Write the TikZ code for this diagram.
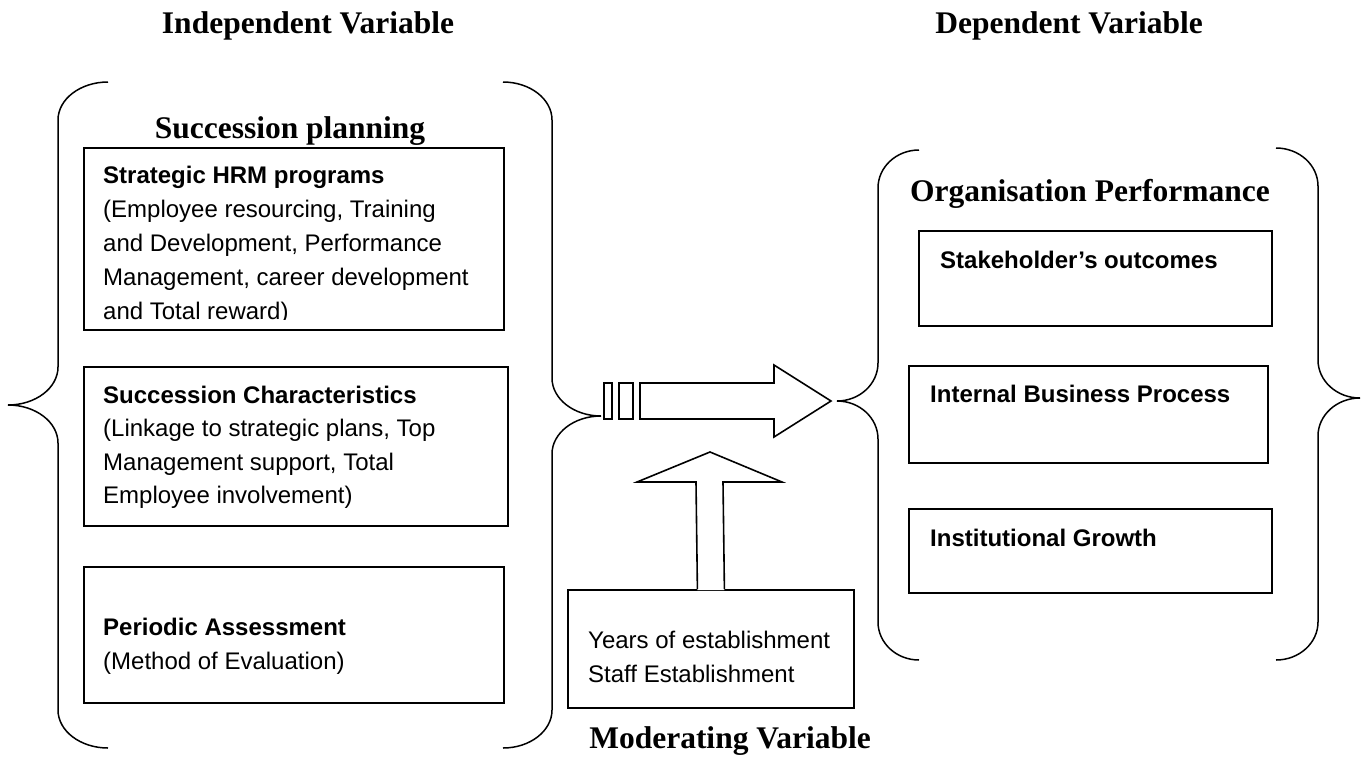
\documentclass[tikz,border=0pt]{standalone}
\usepackage{fontspec}
\setmainfont{Liberation Serif}
\setsansfont{Liberation Sans}
\usetikzlibrary{calc}
% curly brace: vertical x, signed arm depth, top y, tip y, bottom y, bend radius
\newcommand{\curlybrace}[6]{%
  \draw[brace] ({#1+(#2)},#3) .. controls ({#1+0.448*(#2)},#3) and (#1,{#3+0.448*(#6)}) .. (#1,{#3+(#6)})
    -- (#1,{#4-(#6)}) .. controls (#1,{#4-0.448*(#6)}) and ({#1-0.448*(#2)},#4) .. ({#1-(#2)},#4)
    .. controls ({#1-0.448*(#2)},#4) and (#1,{#4+0.448*(#6)}) .. (#1,{#4+(#6)})
    -- (#1,{#5-(#6)}) .. controls (#1,{#5-0.448*(#6)}) and ({#1+0.448*(#2)},#5) .. ({#1+(#2)},#5);}
\begin{document}
\begin{tikzpicture}[x=1pt,y=-1pt,
  box/.style={draw, line width=1.8pt, inner sep=0pt, anchor=north west},
  body/.style={font=\sffamily\fontsize{24}{34}\selectfont, anchor=base west, inner sep=0pt},
  bodyb/.style={font=\sffamily\bfseries\fontsize{24}{34}\selectfont, anchor=base west, inner sep=0pt},
  head/.style={font=\bfseries\fontsize{31.5}{36}\selectfont, inner sep=0pt},
  brace/.style={line width=1.5pt},
  blockarrow/.style={line width=1.6pt, line join=miter}]
\useasboundingbox (0,0) rectangle (1366,756);
\fill[white] (0,0) rectangle (1366,756);

% headings
\node[head, anchor=base] (hIV) at (308,33) {Independent Variable};
\node[head, anchor=base] (hDV) at (1069,33) {Dependent Variable};
\node[head, anchor=base] (hSP) at (290,138) {Succession planning};
\node[head, anchor=base west] (hOP) at (910,201) {Organisation Performance};
\node[head, anchor=base] (hMV) at (730,748) {Moderating Variable};

% independent variable boxes
\node[box, minimum width=420pt, minimum height=182pt] (b1) at (83,147) {};
\node[box, minimum width=424pt, minimum height=159pt] (b2) at (83,366) {};
\node[box, minimum width=420pt, minimum height=136pt] (b3) at (83,566) {};

\node[bodyb] (s1a) at (103,183) {Strategic HRM programs};
\node[body]  (s1b) at (103,217) {(Employee resourcing, Training};
\node[body]  (s1c) at (103,251) {and Development, Performance};
\node[body]  (s1d) at (103,285) {Management, career development};
\begin{scope}
  \clip (83,147) rectangle (503,319.5);
  \node[body] (s1e) at (103,319) {and Total reward)};
\end{scope}

\node[bodyb] (s2a) at (103,403) {Succession Characteristics};
\node[body]  (s2b) at (103,436.5) {(Linkage to strategic plans, Top};
\node[body]  (s2c) at (103,470) {Management support, Total};
\node[body]  (s2d) at (103,503.5) {Employee involvement)};

\node[bodyb] (s3a) at (103,635) {Periodic Assessment};
\node[body]  (s3b) at (103,669) {(Method of Evaluation)};

% dependent variable boxes
\node[box, minimum width=353pt, minimum height=95pt] (r1) at (918,230) {};
\node[box, minimum width=359pt, minimum height=97pt] (r2) at (908,365) {};
\node[box, minimum width=363pt, minimum height=84pt] (r3) at (908,508) {};
\node[bodyb] (o1) at (940,268) {Stakeholder’s outcomes};
\node[bodyb] (o2) at (930,402) {Internal Business Process};
\node[bodyb] (o3) at (930,546) {Institutional Growth};

% moderating variable box
\node[box, minimum width=286pt, minimum height=118pt] (mod) at (567,589) {};
\node[body] (m1) at (588,648) {Years of establishment};
\node[body] (m2) at (588,682) {Staff Establishment};

% braces
\curlybrace{58}{50}{82}{405}{748}{38}
\curlybrace{552}{-49}{82}{416}{748}{38}
\curlybrace{878}{41}{150}{401}{660}{38}
\curlybrace{1318}{-42}{148}{398}{660}{38}

% horizontal block arrow with its two tail bars
\draw[blockarrow] (604,383) rectangle (612,419);
\draw[blockarrow] (619,383) rectangle (633,419);
\draw[blockarrow] (640,383) -- (774,383) -- (774,365) -- (831,401) -- (774,437) -- (774,419) -- (640,419) -- cycle;

% vertical block arrow rising from the moderating box
\fill[white] ($(mod.north)+(-13.5,1.2)$) -- (696,482) -- (637,482) -- (710,452) -- (782,482) -- (723,482) -- ($(mod.north)+(13.5,1.2)$) -- cycle;
\draw[blockarrow] ($(mod.north)+(-13.5,0)$) -- (696,482) -- (637,482) -- (710,452) -- (782,482) -- (723,482) -- ($(mod.north)+(13.5,0)$);
\end{tikzpicture}
\end{document}
